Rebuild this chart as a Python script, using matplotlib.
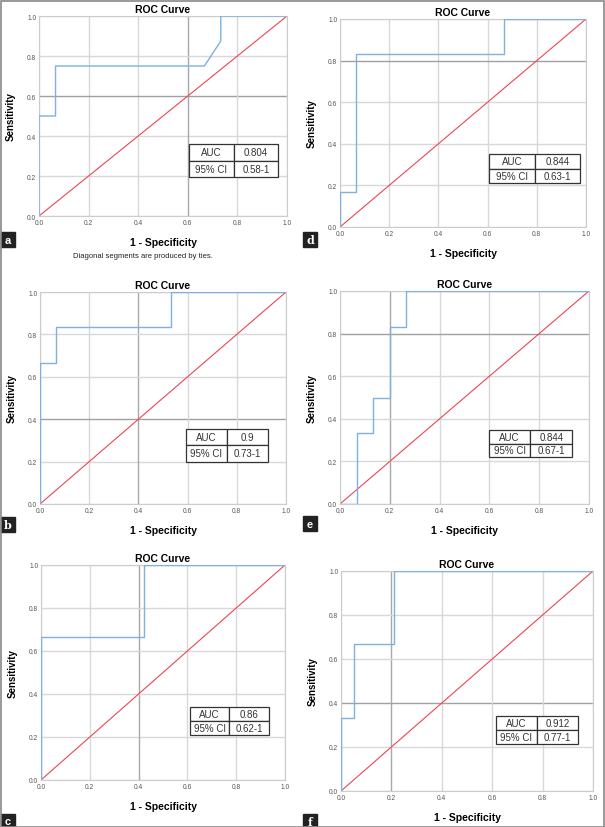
import numpy as np
import matplotlib
matplotlib.use("Agg")
import matplotlib.pyplot as plt

plt.rcParams['font.family'] = ['Liberation Sans', 'DejaVu Sans']

# ROC points (1 - specificity, sensitivity) for each panel
fpr_a = [0, 0, 0.0667, 0.0667, 0.667, 0.733, 0.733, 1.0]
tpr_a = [0, 0.5, 0.5, 0.75, 0.75, 0.875, 1.0, 1.0]

fpr_b = [0, 0, 0.0667, 0.0667, 0.533, 0.533, 1.0]
tpr_b = [0, 0.667, 0.667, 0.833, 0.833, 1.0, 1.0]

fpr_c = [0, 0, 0.421, 0.421, 1.0]
tpr_c = [0, 0.667, 0.667, 1.0, 1.0]

fpr_d = [0, 0, 0.0667, 0.0667, 0.667, 0.667, 1.0]
tpr_d = [0, 0.167, 0.167, 0.833, 0.833, 1.0, 1.0]

fpr_e = [0, 0.0667, 0.0667, 0.133, 0.133, 0.2, 0.2, 0.267, 0.267, 1.0]
tpr_e = [0, 0, 0.333, 0.333, 0.5, 0.5, 0.833, 0.833, 1.0, 1.0]

fpr_f = [0, 0, 0.0526, 0.0526, 0.21, 0.21, 1.0]
tpr_f = [0, 0.333, 0.333, 0.667, 0.667, 1.0, 1.0]

auc_vals = ['0.804', '0.9', '0.86', '0.844', '0.844', '0.912']
ci_vals = ['0.58-1', '0.73-1', '0.62-1', '0.63-1', '0.67-1', '0.77-1']
panel_names = ['a', 'b', 'c', 'd', 'e', 'f']
ticks = [0.0, 0.2, 0.4, 0.6, 0.8, 1.0]

W, H = 605, 828
fig = plt.figure(figsize=(W / 100, H / 100), dpi=100)

# axes boxes in pixels: left, right, top, bottom
boxes = {
    'a': (39, 287, 17, 217),
    'b': (40, 286, 293, 505),
    'c': (41, 285, 566, 781),
    'd': (340, 586, 20, 228),
    'e': (340, 589, 292, 505),
    'f': (341, 593, 572, 792),
}
# table box in axes fraction: x0, y0, width, height
tables = {
    'a': (0.605, 0.195, 0.36, 0.165),
    'b': (0.593, 0.20, 0.334, 0.154),
    'c': (0.61, 0.21, 0.324, 0.13),
    'd': (0.606, 0.21, 0.37, 0.14),
    'e': (0.598, 0.22, 0.334, 0.127),
    'f': (0.615, 0.214, 0.325, 0.126),
}
# label squares (x, y top) in pixels
tags = {'a': (1, 233), 'b': (1, 518), 'c': (1, 815), 'd': (303, 233), 'e': (303, 517), 'f': (303, 815)}
# some grid lines look darker in the scan
dark_x = {'a': [0.6], 'b': [0.4], 'c': [0.4], 'd': [], 'e': [0.2], 'f': [0.2]}
dark_y = {'a': [0.6], 'b': [0.4], 'c': [], 'd': [0.8], 'e': [0.8], 'f': [0.4]}

curves = {'a': (fpr_a, tpr_a), 'b': (fpr_b, tpr_b), 'c': (fpr_c, tpr_c),
          'd': (fpr_d, tpr_d), 'e': (fpr_e, tpr_e), 'f': (fpr_f, tpr_f)}

for i, name in enumerate(panel_names):
    l, r, t, b = boxes[name]
    ax = fig.add_axes([l / W, 1 - b / H, (r - l) / W, (b - t) / H])
    ax.set_xlim(0, 1)
    ax.set_ylim(0, 1)
    for v in ticks:
        ax.axvline(v, color='#a8a8a8' if v in dark_x[name] else '#d8d8d8', lw=1.0, zorder=0)
        ax.axhline(v, color='#a0a0a0' if v in dark_y[name] else '#d8d8d8', lw=1.0, zorder=0)
    ax.plot([0, 1], [0, 1], color='#ee4455', lw=0.8, zorder=2)
    x, y = curves[name]
    ax.plot(x, y, color='#7fb0e0', lw=1.0, zorder=3)
    ax.set_xticks(ticks)
    ax.set_yticks(ticks)
    ax.set_xticklabels(['%.1f' % v for v in ticks])
    ax.set_yticklabels(['%.1f' % v for v in ticks])
    ax.tick_params(length=0, labelsize=4.8, labelcolor='#555555', pad=2)
    for s in ax.spines.values():
        s.set_color('#cccccc')
        s.set_linewidth(0.8)
    ax.set_title('ROC Curve', fontsize=7.5, fontweight='bold', pad=3)
    ax.set_xlabel('1 - Specificity', fontsize=7.5, fontweight='bold', labelpad=8)
    ax.set_ylabel('Sensitivity', fontsize=7, fontweight='bold', labelpad=8)

    # AUC table
    x0, y0, tw, th = tables[name]
    tb = ax.table(cellText=[['AUC', auc_vals[i]], ['95% CI', ci_vals[i]]],
                  bbox=[x0, y0, tw, th], cellLoc='center')
    tb.auto_set_font_size(False)
    tb.set_fontsize(7)
    for cell in tb.get_celld().values():
        cell.set_edgecolor('#333333')
        cell.set_linewidth(0.9)
        cell.set_facecolor('white')
        cell.get_text().set_color('#333333')
    tb.set_zorder(5)

    # panel tag
    tx, ty = tags[name]
    fam = ['DejaVu Serif'] if name in 'bdf' else ['Liberation Sans', 'DejaVu Sans']
    fig.patches.append(plt.Rectangle((tx / W, 1 - (ty + 15) / H), 14 / W, 15 / H,
                                     transform=fig.transFigure, color='#222222'))
    fig.text((tx + 7) / W, 1 - (ty + 7.5) / H, name, color='white', fontsize=8,
             fontweight='bold', family=fam, ha='center', va='center')

fig.text(143 / W, 1 - 257 / H, 'Diagonal segments are produced by ties.',
         fontsize=5.5, ha='center', va='center', color='#222222')

# outer frame
fig.patches.append(plt.Rectangle((0.5 / W, 0.5 / H), (W - 2) / W, (H - 2) / H,
                                 transform=fig.transFigure, fill=False,
                                 edgecolor='#888888', lw=1.2))

fig.savefig('out.png', dpi=100)
